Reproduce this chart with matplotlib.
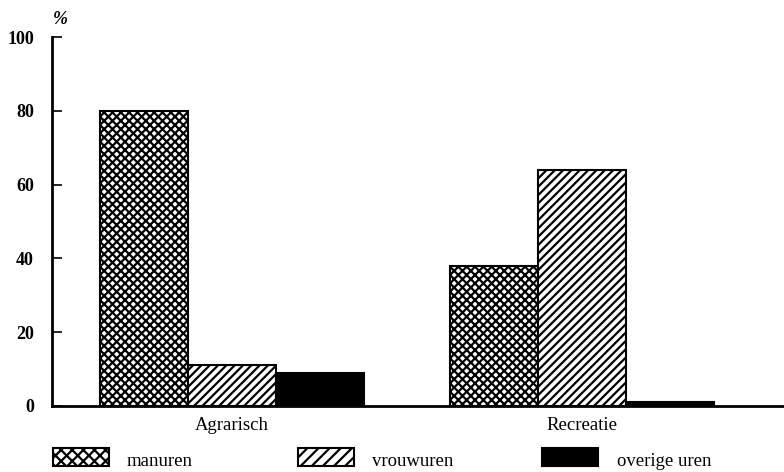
import numpy as np
import matplotlib.pyplot as plt
import matplotlib.patches as mpatches

plt.rcParams['font.family'] = ['Liberation Serif', 'DejaVu Serif']
plt.rcParams['hatch.linewidth'] = 1.6

categories = ['Agrarisch', 'Recreatie']
manuren = [80, 38]
vrouwuren = [11, 64]
overige = [9, 1]
series_names = ['manuren', 'vrouwuren', 'overige uren']
yticks = [0, 20, 40, 60, 80, 100]

fig = plt.figure(figsize=(7.84, 4.72), dpi=100)
ax = fig.add_axes([52/784, 1 - 406/472, 732/784, 369/472])

centers = np.array([0.0, 3.98])
w = 1.0
bar_styles = [dict(facecolor='white', hatch='xxxx'),
              dict(facecolor='white', hatch='////'),
              dict(facecolor='black', hatch=None)]
for off, vals, st in zip([-1, 0, 1], [manuren, vrouwuren, overige], bar_styles):
    ax.bar(centers + off, vals, width=w, edgecolor='black', linewidth=1.5, **st)

ax.set_xlim(-2.045, 6.27)
ax.set_ylim(0, 100)
for s in ['top', 'right']:
    ax.spines[s].set_visible(False)
ax.spines['left'].set_linewidth(2)
ax.spines['bottom'].set_linewidth(2)
ax.set_yticks(yticks)
ax.set_yticklabels([str(t) for t in yticks], fontsize=13, fontweight='bold')
ax.tick_params(axis='y', direction='in', length=7, width=1.2, pad=13)
ax.set_xticks(centers)
ax.set_xticklabels(categories, fontsize=13.5)
ax.tick_params(axis='x', length=0, pad=8)
fig.text(53/784, 1 - 20/472, '%', fontsize=13, fontstyle='italic', fontweight='bold',
         ha='left', va='center')

# legend row
leg_styles = [dict(facecolor='white', hatch='xxx'),
              dict(facecolor='white', hatch='///'),
              dict(facecolor='black', hatch=None)]
leg_x = [53, 298, 542]
txt_x = [127, 372, 617]
for lx, tx, st, name in zip(leg_x, txt_x, leg_styles, series_names):
    r = mpatches.Rectangle((lx/784, 1 - 466/472), 56/784, 18/472, transform=fig.transFigure,
                           edgecolor='black', linewidth=1.5, **st)
    fig.add_artist(r)
    fig.text(tx/784, 1 - 466/472, name, fontsize=13.5, va='baseline', ha='left')

fig.savefig('out.png', dpi=100)
